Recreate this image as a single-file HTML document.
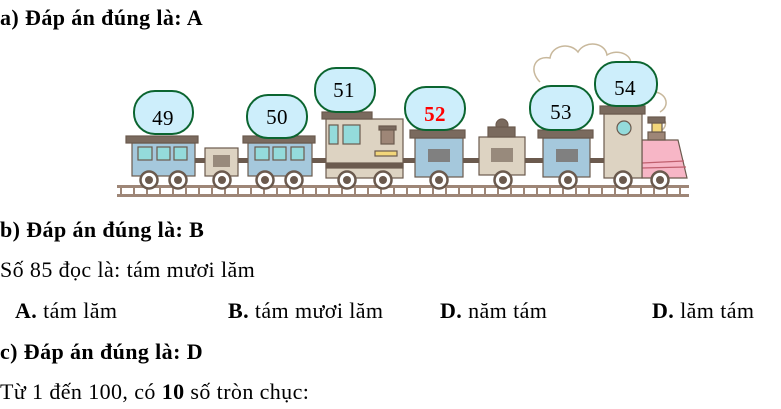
<!DOCTYPE html>
<html><head><meta charset="utf-8"><style>
body{margin:0;width:781px;height:409px;background:#fff;font-family:"Liberation Serif",serif;font-size:22px;letter-spacing:0.4px;color:#000;position:relative;overflow:hidden}
.t{position:absolute;white-space:nowrap;line-height:24px}
svg{position:absolute;left:0;top:0}
</style></head><body>
<svg width="781" height="409" viewBox="0 0 781 409">
<g fill="none" stroke="#c8b89c" stroke-width="1.5">
<path d="M540 82 C528 70 535 55 550 58 C552 45 570 42 578 52 C585 40 605 42 607 55 C618 48 635 55 630 68 C645 70 650 85 640 92"/>
<path d="M650 92 C665 90 672 105 660 112 M662 118 C668 122 665 128 662 130"/>
</g>
<rect x="117" y="185" width="572" height="3" fill="#9e8677"/>
<rect x="117" y="194" width="572" height="3" fill="#9e8677"/>
<g fill="#9e8677">
<rect x="120" y="185" width="2" height="12"/><rect x="133" y="185" width="2" height="12"/><rect x="146" y="185" width="2" height="12"/><rect x="159" y="185" width="2" height="12"/><rect x="172" y="185" width="2" height="12"/><rect x="185" y="185" width="2" height="12"/><rect x="198" y="185" width="2" height="12"/><rect x="211" y="185" width="2" height="12"/><rect x="224" y="185" width="2" height="12"/><rect x="237" y="185" width="2" height="12"/><rect x="250" y="185" width="2" height="12"/><rect x="263" y="185" width="2" height="12"/><rect x="276" y="185" width="2" height="12"/><rect x="289" y="185" width="2" height="12"/><rect x="302" y="185" width="2" height="12"/><rect x="315" y="185" width="2" height="12"/><rect x="328" y="185" width="2" height="12"/><rect x="341" y="185" width="2" height="12"/><rect x="354" y="185" width="2" height="12"/><rect x="367" y="185" width="2" height="12"/><rect x="380" y="185" width="2" height="12"/><rect x="393" y="185" width="2" height="12"/><rect x="406" y="185" width="2" height="12"/><rect x="419" y="185" width="2" height="12"/><rect x="432" y="185" width="2" height="12"/><rect x="445" y="185" width="2" height="12"/><rect x="458" y="185" width="2" height="12"/><rect x="471" y="185" width="2" height="12"/><rect x="484" y="185" width="2" height="12"/><rect x="497" y="185" width="2" height="12"/><rect x="510" y="185" width="2" height="12"/><rect x="523" y="185" width="2" height="12"/><rect x="536" y="185" width="2" height="12"/><rect x="549" y="185" width="2" height="12"/><rect x="562" y="185" width="2" height="12"/><rect x="575" y="185" width="2" height="12"/><rect x="588" y="185" width="2" height="12"/><rect x="601" y="185" width="2" height="12"/><rect x="614" y="185" width="2" height="12"/><rect x="627" y="185" width="2" height="12"/><rect x="640" y="185" width="2" height="12"/><rect x="653" y="185" width="2" height="12"/><rect x="666" y="185" width="2" height="12"/><rect x="679" y="185" width="2" height="12"/>
</g>
<rect x="190" y="158" width="460" height="5" fill="#6b5a4e"/>
<g stroke="#6b5a4e" stroke-width="1.2">
<rect x="132" y="143" width="63" height="33" fill="#a5c8dc"/>
<rect x="126" y="136" width="72" height="7" fill="#7a6a5e"/>
<rect x="138" y="147" width="14" height="13" fill="#94dbdb"/><rect x="157" y="147" width="13" height="13" fill="#94dbdb"/><rect x="174" y="147" width="13" height="13" fill="#94dbdb"/>
<rect x="205" y="148" width="33" height="28" fill="#ddd3c2"/><rect x="213" y="155" width="17" height="12" fill="#988a7c" stroke="none"/>
<rect x="248" y="143" width="64" height="33" fill="#a5c8dc"/>
<rect x="243" y="136" width="72" height="7" fill="#7a6a5e"/>
<rect x="255" y="147" width="14" height="13" fill="#94dbdb"/><rect x="273" y="147" width="13" height="13" fill="#94dbdb"/><rect x="291" y="147" width="13" height="13" fill="#94dbdb"/>
<rect x="326" y="119" width="77" height="59" fill="#ddd3c2"/>
<rect x="322" y="112" width="50" height="7" fill="#7a6a5e"/>
<rect x="329" y="125" width="9" height="19" fill="#94dbdb"/><rect x="343" y="125" width="17" height="19" fill="#94dbdb"/>
<rect x="381" y="129" width="13" height="15" fill="#9e8677"/><rect x="379" y="126" width="17" height="4" fill="#7a6a5e"/>
<rect x="375" y="151" width="22" height="5" fill="#f2d67a"/>
<rect x="326" y="163" width="77" height="5" fill="#6b5a4e"/>
<rect x="415" y="138" width="48" height="39" fill="#a5c8dc"/>
<rect x="410" y="130" width="55" height="8" fill="#7a6a5e"/>
<rect x="428" y="149" width="22" height="13" fill="#808080" stroke="none"/>
<rect x="479" y="137" width="46" height="38" fill="#ddd3c2"/>
<circle cx="502" cy="125" r="6" fill="#7a6a5e"/>
<rect x="488" y="127" width="27" height="10" fill="#7a6a5e"/>
<rect x="491" y="148" width="22" height="14" fill="#988a7c" stroke="none"/>
<rect x="543" y="138" width="47" height="39" fill="#a5c8dc"/>
<rect x="538" y="130" width="55" height="8" fill="#7a6a5e"/>
<rect x="556" y="149" width="22" height="13" fill="#808080" stroke="none"/>
<path d="M642 140 L678 140 L687 178 L642 178 Z" fill="#f7b6c6"/>
<path d="M642 163 L684 161 M642 168 L686 167" stroke="#c0606f"/>
<rect x="648" y="132" width="17" height="8" fill="#9e8677"/>
<rect x="652" y="123" width="10" height="9" fill="#f2d67a"/>
<rect x="648" y="117" width="17" height="6" fill="#7a6a5e"/>
<rect x="604" y="114" width="38" height="64" fill="#ddd3c2"/>
<rect x="600" y="106" width="45" height="8" fill="#7a6a5e"/>
<circle cx="624" cy="128" r="7" fill="#94dbdb"/>
</g>
<g fill="#fff" stroke="#6b5a4e" stroke-width="2.5">
<circle cx="149" cy="180" r="8.5"/><circle cx="178" cy="180" r="8.5"/><circle cx="222" cy="180" r="8.5"/><circle cx="265" cy="180" r="8.5"/><circle cx="294" cy="180" r="8.5"/><circle cx="347" cy="180" r="8.5"/><circle cx="383" cy="180" r="8.5"/><circle cx="439" cy="180" r="8.5"/><circle cx="503" cy="180" r="8.5"/><circle cx="568" cy="180" r="8.5"/><circle cx="623" cy="180" r="8.5"/><circle cx="660" cy="180" r="8.5"/>
</g>
<g fill="#6b5a4e">
<circle cx="149" cy="180" r="4"/><circle cx="178" cy="180" r="4"/><circle cx="222" cy="180" r="4"/><circle cx="265" cy="180" r="4"/><circle cx="294" cy="180" r="4"/><circle cx="347" cy="180" r="4"/><circle cx="383" cy="180" r="4"/><circle cx="439" cy="180" r="4"/><circle cx="503" cy="180" r="4"/><circle cx="568" cy="180" r="4"/><circle cx="623" cy="180" r="4"/><circle cx="660" cy="180" r="4"/>
</g>
<g fill="#cdeefb" stroke="#0b6530" stroke-width="2">
<rect x="134" y="91" width="59" height="43" rx="21"/>
<rect x="247" y="95" width="60" height="43" rx="21"/>
<rect x="315" y="68" width="60" height="44" rx="21"/>
<rect x="405" y="87" width="60" height="43" rx="21"/>
<rect x="530" y="86" width="63" height="44" rx="21"/>
<rect x="595" y="62" width="62" height="44" rx="21"/>
</g>
<g font-family="Liberation Serif, serif" font-size="21" text-anchor="middle">
<text x="163" y="125">49</text>
<text x="277" y="124">50</text>
<text x="344" y="97">51</text>
<text x="435" y="121" fill="#f00" font-weight="bold">52</text>
<text x="561" y="119">53</text>
<text x="625" y="95">54</text>
</g>
</svg>
<div class="t" style="left:0;top:6px"><b>a) Đáp án đúng là: A</b></div>
<div class="t" style="left:0;top:218px"><b>b) Đáp án đúng là: B</b></div>
<div class="t" style="left:0;top:258px">Số 85 đọc là: tám mươi lăm</div>
<div class="t" style="left:15px;top:299px"><b>A.</b> tám lăm</div>
<div class="t" style="left:228px;top:299px"><b>B.</b> tám mươi lăm</div>
<div class="t" style="left:440px;top:299px"><b>D.</b> năm tám</div>
<div class="t" style="left:652px;top:299px"><b>D.</b> lăm tám</div>
<div class="t" style="left:0;top:340px"><b>c) Đáp án đúng là: D</b></div>
<div class="t" style="left:0;top:380px">Từ 1 đến 100, có <b>10</b> số tròn chục:</div>
</body></html>
